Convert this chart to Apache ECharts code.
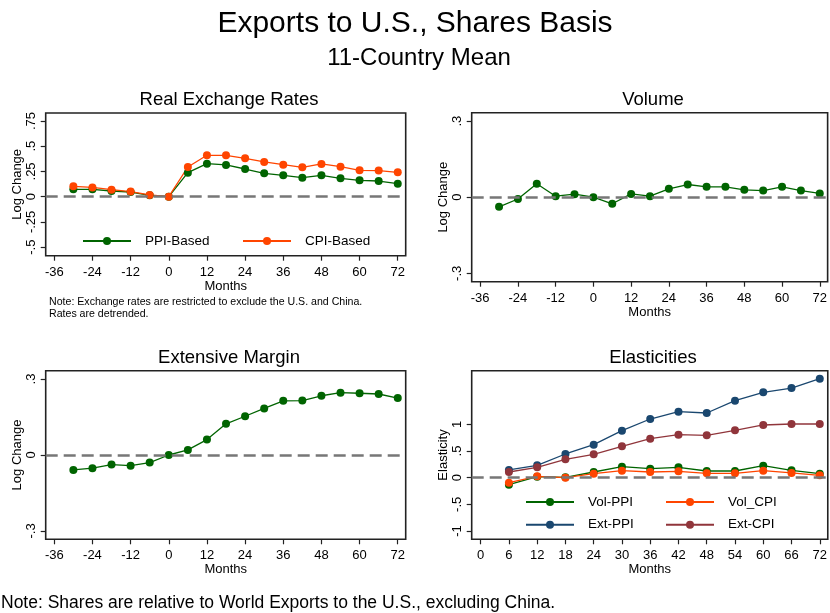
<!DOCTYPE html>
<html>
<head>
<meta charset="utf-8">
<title>Exports to U.S., Shares Basis</title>
<script src="https://cdn.jsdelivr.net/npm/echarts@6/dist/echarts.min.js"></script>
<style>
  html, body { margin: 0; padding: 0; background: #fff; }
  #chart { width: 830px; height: 613px; }
</style>
</head>
<body>
<div id="chart"></div>
<script>
// Event-time months (relative to the shock)
const months = [-30, -24, -18, -12, -6, 0, 6, 12, 18, 24, 30, 36, 42, 48, 54, 60, 66, 72];
// Real exchange rates, log change
const rerPPI = [0.073, 0.073, 0.056, 0.046, 0.013, 0, 0.238, 0.327, 0.314, 0.274, 0.231, 0.211, 0.188, 0.211, 0.182, 0.162, 0.155, 0.129];
const rerCPI = [0.102, 0.092, 0.069, 0.050, 0.017, 0, 0.294, 0.410, 0.410, 0.380, 0.344, 0.317, 0.291, 0.324, 0.297, 0.261, 0.258, 0.241];
// Volume, log change
const volume = [-0.038, -0.007, 0.053, 0.004, 0.012, 0, -0.026, 0.013, 0.004, 0.033, 0.050, 0.041, 0.041, 0.029, 0.026, 0.041, 0.026, 0.015];
// Extensive margin, log change
const extMargin = [-0.059, -0.052, -0.038, -0.042, -0.030, 0, 0.020, 0.061, 0.123, 0.153, 0.184, 0.214, 0.215, 0.234, 0.246, 0.244, 0.241, 0.225];
// Elasticities, months after the shock
const elasMonths = [6, 12, 18, 24, 30, 36, 42, 48, 54, 60, 66, 72];
const elVolPPI = [-0.131, 0.019, 0.006, 0.106, 0.206, 0.169, 0.194, 0.125, 0.125, 0.225, 0.138, 0.075];
const elVolCPI = [-0.094, 0.025, 0.000, 0.075, 0.131, 0.106, 0.119, 0.081, 0.081, 0.131, 0.088, 0.044];
const elExtPPI = [0.144, 0.231, 0.444, 0.619, 0.881, 1.100, 1.238, 1.213, 1.444, 1.600, 1.681, 1.856];
const elExtCPI = [0.106, 0.194, 0.344, 0.438, 0.588, 0.731, 0.806, 0.794, 0.888, 0.988, 1.006, 1.006];

// Tick values
const monthTicks = [-36, -24, -12, 0, 12, 24, 36, 48, 60, 72];
const elasMonthTicks = [0, 6, 12, 18, 24, 30, 36, 42, 48, 54, 60, 66, 72];
const rerTicks = [-0.5, -0.25, 0, 0.25, 0.5, 0.75];
const logTicks = [-0.3, 0, 0.3];
const elasTicks = [-1, -0.5, 0, 0.5, 1];

const FONT = '"Liberation Sans", Arial, Helvetica, sans-serif';
const GREEN = '#006400', ORANGE = '#ff4500', NAVY = '#1a476f', MAROON = '#90353b';

// Stata-style numbers: drop the leading zero (".25", "-.5")
function stataNum(v) {
  const r = Math.round(v * 100) / 100;
  if (r === 0) return '0';
  return String(r).replace(/^(-?)0\./, '$1.');
}

function pairs(xs, ys) { return xs.map((x, i) => [x, ys[i]]); }

function xAxisFor(gridIndex, min, max, ticks) {
  return {
    type: 'value', gridIndex, min, max,
    name: 'Months', nameLocation: 'middle', nameGap: 21,
    nameTextStyle: { fontFamily: FONT, fontSize: 13, color: '#000' },
    axisLine: { show: false, onZero: false },
    axisTick: { show: true, length: 5, customValues: ticks, lineStyle: { color: '#222', width: 1.2 } },
    axisLabel: { customValues: ticks, margin: 10, fontFamily: FONT, fontSize: 13, color: '#000', formatter: v => String(v) },
    splitLine: { show: false }
  };
}

function yAxisFor(gridIndex, min, max, ticks, name) {
  return {
    type: 'value', gridIndex, min, max,
    name, nameLocation: 'middle', nameGap: 22,
    nameTextStyle: { fontFamily: FONT, fontSize: 13, color: '#000' },
    axisLine: { show: false, onZero: false },
    axisTick: { show: true, length: 5, customValues: ticks, lineStyle: { color: '#222', width: 1.2 } },
    axisLabel: { customValues: ticks, rotate: 90, margin: 8, fontFamily: FONT, fontSize: 13, color: '#000', formatter: stataNum },
    splitLine: { show: false }
  };
}

function lineSeries(name, idx, xs, ys, color) {
  return {
    name, type: 'line', xAxisIndex: idx, yAxisIndex: idx,
    data: pairs(xs, ys),
    symbol: 'circle', symbolSize: 8, showSymbol: true,
    lineStyle: { color, width: 1.3 },
    itemStyle: { color },
    emphasis: { disabled: true },
    z: 3
  };
}

function zeroLine(idx) {
  return {
    name: 'zero' + idx, type: 'line', xAxisIndex: idx, yAxisIndex: idx, data: [], z: 1,
    markLine: {
      silent: true, symbol: ['none', 'none'], label: { show: false },
      lineStyle: { type: [12, 6], color: '#777', width: 2.5 },
      data: [{ yAxis: 0 }], animation: false
    }
  };
}

function legendItem(name, left, cy) {
  return {
    data: [name], left, top: cy - 5, padding: 0,
    itemWidth: 48, itemHeight: 10,
    textStyle: { fontFamily: FONT, fontSize: 13.5, color: '#000', padding: [0, 0, 0, 9] },
    selectedMode: false
  };
}

function text(str, x, y, size, align) {
  return {
    type: 'text', x, y,
    style: { text: str, font: size + 'px ' + FONT, fill: '#000', textAlign: align || 'center', textVerticalAlign: 'middle' }
  };
}

const gridBox = { show: true, borderColor: '#222', borderWidth: 1.6, backgroundColor: '#fff' };

const option = {
  backgroundColor: '#fff',
  animation: false,
  grid: [
    Object.assign({ left: 45.7, top: 113, width: 360, height: 142.7 }, gridBox),
    Object.assign({ left: 471.7, top: 112.7, width: 360, height: 169 }, gridBox),
    Object.assign({ left: 45.7, top: 370.7, width: 360, height: 168.6 }, gridBox),
    Object.assign({ left: 471.7, top: 370.7, width: 360, height: 168.6 }, gridBox)
  ],
  xAxis: [
    xAxisFor(0, -38.7, 74.5, monthTicks),
    xAxisFor(1, -38.7, 74.5, monthTicks),
    xAxisFor(2, -38.7, 74.5, monthTicks),
    xAxisFor(3, -1.9, 73.7, elasMonthTicks)
  ],
  yAxis: [
    yAxisFor(0, -0.585, 0.829, rerTicks, 'Log Change'),
    yAxisFor(1, -0.333, 0.333, logTicks, 'Log Change'),
    yAxisFor(2, -0.333, 0.333, logTicks, 'Log Change'),
    yAxisFor(3, -1.156, 2.006, elasTicks, 'Elasticity')
  ],
  legend: [
    legendItem('PPI-Based', 82, 239),
    legendItem('CPI-Based', 242, 239),
    legendItem('Vol-PPI', 525, 500),
    legendItem('Vol_CPI', 665, 500),
    legendItem('Ext-PPI', 525, 522.7),
    legendItem('Ext-CPI', 665, 522.7)
  ],
  series: [
    zeroLine(0), zeroLine(1), zeroLine(2), zeroLine(3),
    lineSeries('PPI-Based', 0, months, rerPPI, GREEN),
    lineSeries('CPI-Based', 0, months, rerCPI, ORANGE),
    lineSeries('Volume', 1, months, volume, GREEN),
    lineSeries('Extensive Margin', 2, months, extMargin, GREEN),
    lineSeries('Vol-PPI', 3, elasMonths, elVolPPI, GREEN),
    lineSeries('Vol_CPI', 3, elasMonths, elVolCPI, ORANGE),
    lineSeries('Ext-PPI', 3, elasMonths, elExtPPI, NAVY),
    lineSeries('Ext-CPI', 3, elasMonths, elExtCPI, MAROON)
  ],
  graphic: [
    text('Exports to U.S., Shares Basis', 415, 24, 30),
    text('11-Country Mean', 419, 58, 24),
    text('Real Exchange Rates', 229, 100, 18.5),
    text('Volume', 653, 100, 18.5),
    text('Extensive Margin', 229, 358, 18.5),
    text('Elasticities', 653, 358, 18.5),
    text('Note: Exchange rates are restricted to exclude the U.S. and China.', 49, 302, 10.6, 'left'),
    text('Rates are detrended.', 49, 314, 10.6, 'left'),
    text('Note: Shares are relative to World Exports to the U.S., excluding China.', 1, 603, 17.5, 'left')
  ]
};

const chart = echarts.init(document.getElementById('chart'), null, { renderer: 'canvas' });
chart.setOption(option);
</script>
</body>
</html>
